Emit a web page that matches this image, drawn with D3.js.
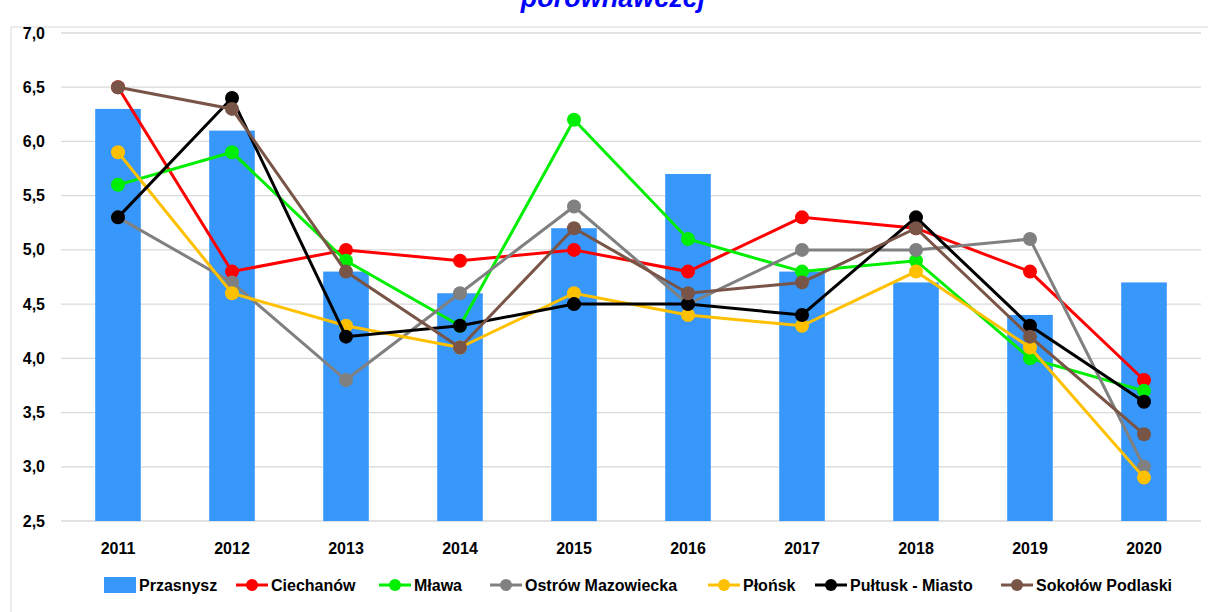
<!DOCTYPE html>
<html lang="pl">
<head>
<meta charset="UTF-8">
<script src="https://d3js.org/d3.v7.min.js"></script>
<style>
  body { margin: 0; background: #fff; }
  svg text { font-family: "Liberation Sans Narrow", "Liberation Sans", Arial, sans-serif; font-weight: bold; }
</style>
</head>
<body>
<div id="chart"></div>
<script>
// data
var years = ["2011","2012","2013","2014","2015","2016","2017","2018","2019","2020"];
var barName = "Przasnysz";
var przasnysz = [6.3, 6.1, 4.8, 4.6, 5.2, 5.7, 4.8, 4.7, 4.4, 4.7];
var ciechanow = [6.5, 4.8, 5.0, 4.9, 5.0, 4.8, 5.3, 5.2, 4.8, 3.8];
var mlawa     = [5.6, 5.9, 4.9, 4.3, 6.2, 5.1, 4.8, 4.9, 4.0, 3.7];
var ostrow    = [5.3, 4.7, 3.8, 4.6, 5.4, 4.5, 5.0, 5.0, 5.1, 3.0];
var plonsk    = [5.9, 4.6, 4.3, 4.1, 4.6, 4.4, 4.3, 4.8, 4.1, 2.9];
var pultusk   = [5.3, 6.4, 4.2, 4.3, 4.5, 4.5, 4.4, 5.3, 4.3, 3.6];
var sokolow   = [6.5, 6.3, 4.8, 4.1, 5.2, 4.6, 4.7, 5.2, 4.2, 3.3];
var yTicks = [2.5, 3.0, 3.5, 4.0, 4.5, 5.0, 5.5, 6.0, 6.5, 7.0];

var series = [
  {name: "Ciechanów", values: ciechanow, color: "#ff0000"},
  {name: "Mława", values: mlawa, color: "#00ee00"},
  {name: "Ostrów Mazowiecka", values: ostrow, color: "#808080"},
  {name: "Płońsk", values: plonsk, color: "#ffc000"},
  {name: "Pułtusk - Miasto", values: pultusk, color: "#000000"},
  {name: "Sokołów Podlaski", values: sokolow, color: "#795548"}
];

var W = 1208, H = 612;
var margin = {top: 33, left: 61, right: 7, bottom: 91};

var svg = d3.select("#chart").append("svg").attr("width", W).attr("height", H);

// frame
svg.append("path").attr("d", "M11," + H + "V27H" + W)
  .attr("fill", "none").attr("stroke", "#d9d9d9").attr("stroke-width", 1);

// title (cut off at the top, as in the source)
svg.append("text").attr("x", 613).attr("y", 7).attr("text-anchor", "middle")
  .attr("fill", "#0000ff").style("font-size", "27px").style("font-style", "italic")
  .style("font-family", "'Liberation Sans', Arial, sans-serif")
  .text("porównawczej");

var x = d3.scaleBand().domain(years).range([margin.left, W - margin.right]).paddingInner(0.6).paddingOuter(0.3);
var xc = function(d){ return x(d) + x.bandwidth() / 2; };
var y = d3.scaleLinear().domain([2.5, 7.0]).range([H - margin.bottom, margin.top]);

// gridlines
svg.append("g").selectAll("line").data(yTicks).join("line")
  .attr("x1", margin.left).attr("x2", W - margin.right)
  .attr("y1", function(d){ return y(d); }).attr("y2", function(d){ return y(d); })
  .attr("stroke", "#d9d9d9").attr("stroke-width", 1.3);

// y labels
var fmt = function(d){ return d3.format(".1f")(d).replace(".", ","); };
svg.append("g").selectAll("text").data(yTicks).join("text")
  .attr("x", 45).attr("y", function(d){ return y(d); }).attr("dy", "0.35em")
  .attr("text-anchor", "end").style("font-size", "16px").attr("fill", "#000")
  .text(fmt);

// x labels
svg.append("g").selectAll("text").data(years).join("text")
  .attr("x", xc).attr("y", 554).attr("text-anchor", "middle")
  .style("font-size", "16px").attr("fill", "#000").text(function(d){ return d; });

// bars
svg.append("g").selectAll("rect").data(przasnysz).join("rect")
  .attr("x", function(d, i){ return x(years[i]); })
  .attr("width", x.bandwidth())
  .attr("y", function(d){ return y(d); })
  .attr("height", function(d){ return y(2.5) - y(d); })
  .attr("fill", "#3797fb");

// lines
var line = d3.line().x(function(d, i){ return xc(years[i]); }).y(function(d){ return y(d); });
series.forEach(function(s){
  var g = svg.append("g");
  g.append("path").datum(s.values).attr("d", line)
    .attr("fill", "none").attr("stroke", s.color).attr("stroke-width", 3);
  g.selectAll("circle").data(s.values).join("circle")
    .attr("cx", function(d, i){ return xc(years[i]); })
    .attr("cy", function(d){ return y(d); })
    .attr("r", 7).attr("fill", s.color);
});

// legend
var legY = 585;
var legPos = [104, 236, 379, 490, 708, 815, 1001];
var lg = svg.append("g");
lg.append("rect").attr("x", legPos[0]).attr("y", legY - 8).attr("width", 32).attr("height", 16).attr("fill", "#3797fb");
lg.append("text").attr("x", legPos[0] + 35).attr("y", legY).attr("dy", "0.35em")
  .style("font-size", "16px").text(barName);
series.forEach(function(s, i){
  var lx = legPos[i + 1];
  lg.append("line").attr("x1", lx).attr("x2", lx + 32).attr("y1", legY).attr("y2", legY)
    .attr("stroke", s.color).attr("stroke-width", 3);
  lg.append("circle").attr("cx", lx + 16).attr("cy", legY).attr("r", 6).attr("fill", s.color);
  lg.append("text").attr("x", lx + 35).attr("y", legY).attr("dy", "0.35em")
    .style("font-size", "16px").text(s.name);
});
</script>
</body>
</html>
